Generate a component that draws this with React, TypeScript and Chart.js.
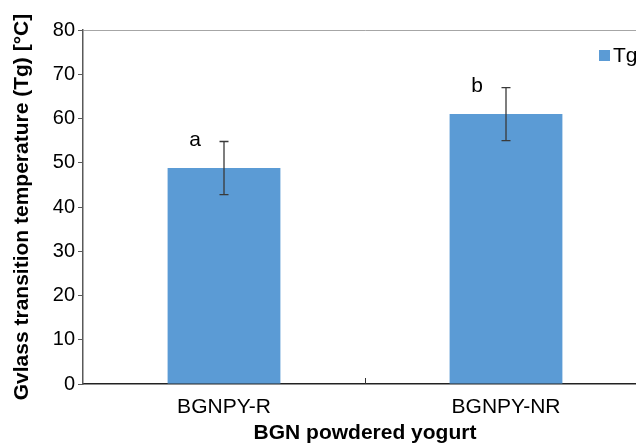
import { useEffect, useRef } from "react";
import { Chart, registerables } from "chart.js";

Chart.register(...registerables);

const categories = ["BGNPY-R", "BGNPY-NR"];
const tgValues = [48.8, 61.0];
const tgErrors = [6.0, 6.0];
const letters = ["a", "b"];
const seriesLabel = "Tg";
const yMin = 0;
const yMax = 80;
const yStep = 10;

const FONT = "'Liberation Sans', Arial, sans-serif";
const BAR_COLOR = "#5B9BD5";

const errorBarPlugin = {
  id: "errorBars",
  afterDatasetsDraw(chart: any) {
    const { ctx, scales } = chart;
    const meta = chart.getDatasetMeta(0);
    const y = scales.y;
    ctx.save();
    meta.data.forEach((bar: any, i: number) => {
      const x = bar.x;
      const top = y.getPixelForValue(tgValues[i] + tgErrors[i]);
      const bot = y.getPixelForValue(tgValues[i] - tgErrors[i]);
      ctx.strokeStyle = "#3a3a3a";
      ctx.lineWidth = 1.3;
      ctx.beginPath();
      ctx.moveTo(x, top);
      ctx.lineTo(x, bot);
      ctx.moveTo(x - 4.5, top);
      ctx.lineTo(x + 4.5, top);
      ctx.moveTo(x - 4.5, bot);
      ctx.lineTo(x + 4.5, bot);
      ctx.stroke();
      ctx.fillStyle = "#000";
      ctx.font = `21px ${FONT}`;
      ctx.textAlign = "center";
      ctx.textBaseline = "middle";
      ctx.fillText(letters[i], x - 29, top - 1);
    });
    ctx.restore();
  },
};

const midTickPlugin = {
  id: "midTick",
  afterDraw(chart: any) {
    const { ctx, scales, chartArea } = chart;
    const xs = scales.x;
    const bx = (xs.getPixelForValue(0) + xs.getPixelForValue(1)) / 2;
    ctx.save();
    ctx.strokeStyle = "#333";
    ctx.lineWidth = 1;
    ctx.beginPath();
    ctx.moveTo(Math.round(bx) + 0.5, chartArea.bottom - 6);
    ctx.lineTo(Math.round(bx) + 0.5, chartArea.bottom);
    ctx.stroke();
    ctx.restore();
  },
};

const legendPlugin = {
  id: "cornerLegend",
  afterDraw(chart: any) {
    const { ctx, chartArea } = chart;
    const bx = chartArea.right - 48;
    const by = chartArea.top + 20;
    ctx.save();
    ctx.fillStyle = BAR_COLOR;
    ctx.fillRect(bx, by, 11, 11);
    ctx.fillStyle = "#000";
    ctx.font = `21px ${FONT}`;
    ctx.textAlign = "left";
    ctx.textBaseline = "middle";
    ctx.fillText(chart.data.datasets[0].label, bx + 14, by + 6);
    ctx.restore();
  },
};

export default function App() {
  const ref = useRef<HTMLCanvasElement | null>(null);

  useEffect(() => {
    if (!ref.current) return;
    const chart = new Chart(ref.current, {
      type: "bar",
      data: {
        labels: categories,
        datasets: [
          {
            label: seriesLabel,
            data: tgValues,
            backgroundColor: BAR_COLOR,
            borderWidth: 0,
            categoryPercentage: 0.8,
            barPercentage: 0.5,
          },
        ],
      },
      options: {
        responsive: false,
        animation: false,
        devicePixelRatio: 1,
        layout: { padding: { top: 30, right: 1, left: 0, bottom: 0 } },
        plugins: {
          legend: { display: false },
          tooltip: { enabled: false },
        },
        scales: {
          x: {
            grid: { display: false },
            border: { display: true, color: "#222", width: 1.5 },
            ticks: {
              color: "#000",
              font: { family: FONT, size: 21 },
              padding: 3,
            },
            title: {
              display: true,
              text: "BGN powdered yogurt",
              color: "#000",
              font: { family: FONT, size: 21, weight: "bold" },
              padding: { top: 0, bottom: -3 },
            },
            afterFit(scale: any) {
              scale.height = 59;
            },
          },
          y: {
            min: yMin,
            max: yMax,
            ticks: {
              stepSize: yStep,
              color: "#000",
              font: { family: FONT, size: 20 },
              padding: 3,
            },
            grid: {
              color: (c: any) => (c.tick && c.tick.value === yMax ? "#a6a6a6" : "rgba(0,0,0,0)"),
              tickColor: "#595959",
              tickLength: 5,
              lineWidth: 1,
            },
            border: { display: true, color: "#595959", width: 1.5 },
            title: {
              display: true,
              text: "Gvlass transition temperature (Tg) [°C]",
              color: "#000",
              font: { family: FONT, size: 21, weight: "bold" },
              padding: { top: 10, bottom: 0 },
            },
            afterFit(scale: any) {
              scale.width = 83;
            },
          },
        },
      },
      plugins: [errorBarPlugin, midTickPlugin, legendPlugin],
    });
    return () => chart.destroy();
  }, []);

  return (
    <div
      style={{
        position: "fixed",
        left: 0,
        top: 0,
        width: 636,
        height: 443,
        overflow: "hidden",
        background: "#fff",
      }}
    >
      <canvas ref={ref} width={648} height={443} style={{ display: "block" }} />
    </div>
  );
}
